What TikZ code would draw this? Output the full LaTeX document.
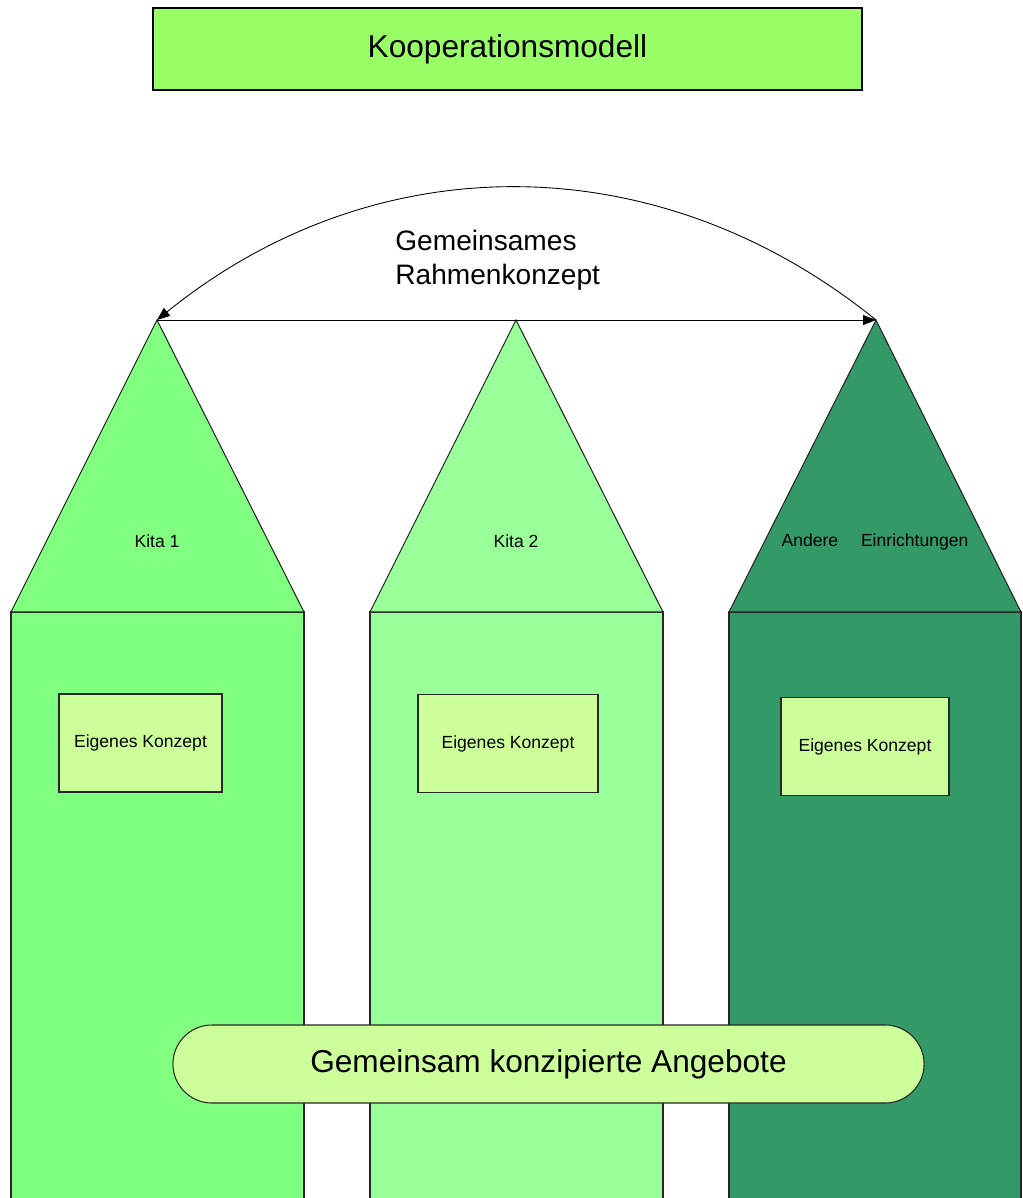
\documentclass[tikz,border=0pt]{standalone}
\usepackage{fontspec}
\setmainfont{Liberation Sans}
\usepackage{tikz}
\usetikzlibrary{arrows.meta, positioning, shapes.misc}
\definecolor{titlegreen}{RGB}{153, 255, 102}
\definecolor{kitaone}{RGB}{128, 255, 128}
\definecolor{kitatwo}{RGB}{153, 255, 153}
\definecolor{otherorg}{RGB}{51, 153, 102}
\definecolor{conceptbg}{RGB}{204, 255, 153}
\tikzset{
  font=\fontsize{10}{12}\selectfont,
  houseshape/.style={draw=black!85, line width=0.6pt},
  titleblock/.style={
    rectangle, draw=black, line width=1pt, fill=titlegreen,
    minimum width=14.18cm, minimum height=1.64cm,
    font=\fontsize{18}{22}\selectfont
  },
  conceptblock/.style={
    rectangle, draw=black!85, line width=0.6pt, fill=conceptbg,
    minimum height=1.96cm, align=center
  },
  offerblock/.style={
    rounded rectangle, draw=black!85, line width=0.6pt, fill=conceptbg,
    minimum width=15.26cm, minimum height=1.56cm,
    font=\fontsize{18}{22}\selectfont
  },
  houselabel/.style={font=\fontsize{10}{12}\selectfont},
  framelabel/.style={font=\fontsize{16}{19.5}\selectfont, align=left, inner sep=0pt},
  flowline/.style={
    draw=black, line width=0.5pt, -{Triangle[length=2.6mm, width=2mm]}
  }
}
\begin{document}
\begin{tikzpicture}[x=0.02cm, y=-0.02cm]
  \useasboundingbox (0,0) rectangle (1023,1198);

  \node[titleblock] (title) at (507.5,49) {Kooperationsmodell};

  % roof tips
  \coordinate (apexA) at (157,320);
  \coordinate (apexB) at (516,320);
  \coordinate (apexC) at (876,320);

  % Kita 1
  \filldraw[houseshape, fill=kitaone] (11,1198) -- (11,612) -- (304,612) -- (304,1198);
  \filldraw[houseshape, fill=kitaone] (11,612) -- (apexA) -- (304,612) -- cycle;
  % Kita 2
  \filldraw[houseshape, fill=kitatwo] (370,1198) -- (370,612) -- (663,612) -- (663,1198);
  \filldraw[houseshape, fill=kitatwo] (370,612) -- (apexB) -- (663,612) -- cycle;
  % andere Einrichtungen
  \filldraw[houseshape, fill=otherorg] (729,1198) -- (729,612) -- (1021,612) -- (1021,1198);
  \filldraw[houseshape, fill=otherorg] (729,612) -- (apexC) -- (1021,612) -- cycle;

  \node[houselabel] (kitaA) at (157,541) {Kita 1};
  \node[houselabel] (kitaB) at (516,541) {Kita 2};
  \node[houselabel] (other) at (875,542) {Andere\hspace{1.3em}Einrichtungen};

  \node[conceptblock, minimum width=3.26cm] (conceptA) at (140.5,743) {Eigenes Konzept};
  \node[conceptblock, minimum width=3.6cm] (conceptB) at (508,743.5) {Eigenes Konzept};
  \node[conceptblock, minimum width=3.36cm] (conceptC) at (865,746.5) {Eigenes Konzept};

  \node[framelabel, anchor=west] (frame) at (395,260) {Gemeinsames\\ Rahmenkonzept};

  \draw[flowline] (apexA) -- (apexC);
  \draw[flowline] (apexC) to[bend right=39] (apexA);

  \node[offerblock] (offers) at (548.5,1064) {Gemeinsam konzipierte Angebote};
\end{tikzpicture}
\end{document}
